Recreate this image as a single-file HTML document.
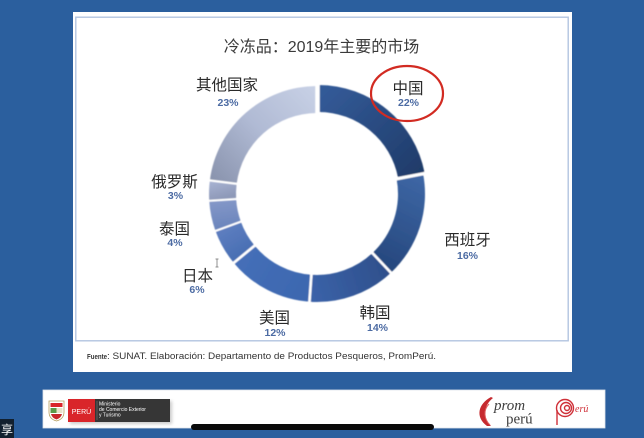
<!DOCTYPE html>
<html>
<head>
<meta charset="utf-8">
<style>
  html,body{margin:0;padding:0;background:#2b5f9e;}
  body{width:644px;height:438px;overflow:hidden;}
  svg{display:block;}
  .cjk{font-family:"Liberation Sans","Noto Sans CJK SC",sans-serif;}
  .lbl{font-family:"Liberation Sans","Noto Sans CJK SC",sans-serif;font-size:15.5px;fill:#2a2a2a;text-anchor:middle;}
  .pct{font-family:"Liberation Sans",sans-serif;font-size:10.5px;font-weight:bold;fill:#4c6ba3;text-anchor:middle;}
</style>
</head>
<body>
<svg width="644" height="438" viewBox="0 0 644 438" xmlns="http://www.w3.org/2000/svg">
  <defs>
    <linearGradient id="gChina" gradientUnits="userSpaceOnUse" x1="330" y1="88" x2="415" y2="178">
      <stop offset="0" stop-color="#335a97"/><stop offset="1" stop-color="#1f3b69"/>
    </linearGradient>
    <linearGradient id="gSpain" gradientUnits="userSpaceOnUse" x1="422" y1="180" x2="378" y2="268">
      <stop offset="0" stop-color="#3d66a4"/><stop offset="1" stop-color="#25467c"/>
    </linearGradient>
    <linearGradient id="gKorea" gradientUnits="userSpaceOnUse" x1="388" y1="268" x2="312" y2="292">
      <stop offset="0" stop-color="#2e4f8b"/><stop offset="1" stop-color="#3b62a8"/>
    </linearGradient>
    <linearGradient id="gUSA" gradientUnits="userSpaceOnUse" x1="300" y1="295" x2="238" y2="258">
      <stop offset="0" stop-color="#3d68b0"/><stop offset="1" stop-color="#456fb8"/>
    </linearGradient>
    <linearGradient id="gJapan" gradientUnits="userSpaceOnUse" x1="232" y1="258" x2="216" y2="232">
      <stop offset="0" stop-color="#4a70b4"/><stop offset="1" stop-color="#5e7ec0"/>
    </linearGradient>
    <linearGradient id="gThai" gradientUnits="userSpaceOnUse" x1="214" y1="228" x2="210" y2="201">
      <stop offset="0" stop-color="#6c86bd"/><stop offset="1" stop-color="#8598c8"/>
    </linearGradient>
    <linearGradient id="gRussia" gradientUnits="userSpaceOnUse" x1="210" y1="182" x2="215" y2="200">
      <stop offset="0" stop-color="#a7b2d2"/><stop offset="1" stop-color="#8e99b8"/>
    </linearGradient>
    <linearGradient id="gOthers" gradientUnits="userSpaceOnUse" x1="312" y1="88" x2="214" y2="180">
      <stop offset="0" stop-color="#c7d0e5"/><stop offset="0.5" stop-color="#b0bad4"/><stop offset="1" stop-color="#8a94ae"/>
    </linearGradient>
    <filter id="soft" x="-10%" y="-10%" width="120%" height="120%">
      <feGaussianBlur stdDeviation="0.6"/>
    </filter>
    <filter id="shad" x="-10%" y="-10%" width="120%" height="120%">
      <feGaussianBlur stdDeviation="1.5"/>
    </filter>
  </defs>

  <!-- background -->
  <rect x="0" y="0" width="644" height="438" fill="#2b5f9e"/>

  <!-- slide -->
  <rect x="73" y="12" width="499" height="360" fill="#ffffff"/>
  <rect x="75.8" y="17.2" width="492.4" height="323.6" fill="none" stroke="#b3c5e0" stroke-width="1.4"/>

  <!-- title -->
  <text x="321.5" y="52" class="cjk" font-size="16" fill="#3a3a3a" text-anchor="middle">冷冻品：2019年主要的市场</text>

  <!-- donut segments -->
  <g filter="url(#soft)">
    <path d="M318.5,85 A108,108 0 0 1 424.59,172.76 L398.07,177.82 A81,81 0 0 0 318.5,112 Z" fill="url(#gChina)"/>
    <path d="M423.09,173.76 A108,108 0 0 1 390.93,272.73 L372.45,253.05 A81,81 0 0 0 396.57,178.82 Z" fill="url(#gSpain)"/>
    <path d="M390.93,272.73 A108,108 0 0 1 309.47,301.74 L311.35,274.80 A81,81 0 0 0 372.45,253.05 Z" fill="url(#gKorea)"/>
    <path d="M309.47,301.74 A108,108 0 0 1 233.78,262.84 L254.59,245.63 A81,81 0 0 0 311.35,274.80 Z" fill="url(#gUSA)"/>
    <path d="M233.78,262.84 A108,108 0 0 1 215.51,230.94 L240.88,221.70 A81,81 0 0 0 254.59,245.63 Z" fill="url(#gJapan)"/>
    <path d="M215.51,230.94 A108,108 0 0 1 209.21,200.78 L236.16,199.09 A81,81 0 0 0 240.88,221.70 Z" fill="url(#gThai)"/>
    <path d="M209.21,200.78 A108,108 0 0 1 209.85,180.46 L236.64,183.85 A81,81 0 0 0 236.16,199.09 Z" fill="url(#gRussia)"/>
    <path d="M209.85,180.46 A108,108 0 0 1 317,86 L317,113 A81,81 0 0 0 236.64,183.85 Z" fill="url(#gOthers)"/>
    <!-- separators -->
    <g stroke="#ffffff" stroke-width="2.6" stroke-linecap="butt">
      <line x1="317.5" y1="80" x2="317.5" y2="119" stroke-width="4.5"/>
      <line x1="391.65" y1="179.76" x2="428.0" y2="172.83" stroke-width="3.2"/>
      <line x1="369.03" y1="249.40" x2="394.35" y2="276.37"/>
      <line x1="311.70" y1="269.81" x2="309.12" y2="306.72"/>
      <line x1="258.44" y1="242.44" x2="229.93" y2="266.03"/>
      <line x1="245.58" y1="219.99" x2="210.81" y2="232.65" stroke-width="2"/>
      <line x1="241.15" y1="198.77" x2="204.22" y2="201.10" stroke-width="2"/>
      <line x1="241.60" y1="184.47" x2="204.89" y2="179.84" stroke-width="2.2"/>
    </g>
  </g>

  <!-- labels -->
  <text x="227" y="90" class="lbl">其他国家</text>
  <text x="228" y="106" class="pct">23%</text>

  <text x="408" y="93.5" class="lbl">中国</text>
  <text x="408.5" y="106" class="pct">22%</text>

  <text x="467.5" y="245" class="lbl">西班牙</text>
  <text x="467.5" y="259" class="pct">16%</text>

  <text x="375" y="318" class="lbl">韩国</text>
  <text x="377.5" y="331" class="pct">14%</text>

  <text x="274.5" y="323" class="lbl">美国</text>
  <text x="275" y="336" class="pct">12%</text>

  <text x="197.5" y="281" class="lbl">日本</text>
  <text x="197" y="293" class="pct">6%</text>

  <text x="174.5" y="234" class="lbl">泰国</text>
  <text x="175" y="246" class="pct">4%</text>

  <text x="174.5" y="187" class="lbl">俄罗斯</text>
  <text x="175.5" y="199" class="pct">3%</text>

  <!-- red highlight ellipse -->
  <ellipse cx="407" cy="93.5" rx="36" ry="27.5" fill="none" stroke="#d22b22" stroke-width="2.2"/>

  <!-- text cursor -->
  <g stroke="#777" stroke-width="0.8" fill="none">
    <line x1="217" y1="259" x2="217" y2="267"/>
    <line x1="215.5" y1="259" x2="218.5" y2="259"/>
    <line x1="215.5" y1="267" x2="218.5" y2="267"/>
  </g>

  <!-- source -->
  <text x="87" y="359" font-family="Liberation Sans, sans-serif" font-size="7" font-weight="bold" fill="#333" textLength="20" lengthAdjust="spacingAndGlyphs">Fuente</text>
  <text x="107" y="359" font-family="Liberation Sans, sans-serif" font-size="9" fill="#333" textLength="329" lengthAdjust="spacingAndGlyphs">: SUNAT. Elaboración: Departamento de Productos Pesqueros, PromPerú.</text>

  <!-- bottom logo bar -->
  <rect x="43" y="390" width="562" height="38" fill="#ffffff" stroke="#dfe4ec" stroke-width="0.8"/>

  <!-- Peru gov logo -->
  <rect x="70" y="401" width="102" height="23" fill="#999" opacity="0.5" filter="url(#shad)"/>
  <path d="M49,401 L64,401 L64,412 Q64,419 56.5,421 Q49,419 49,412 Z" fill="#ffffff" stroke="#b8a060" stroke-width="0.8"/>
  <rect x="50.5" y="403" width="12" height="4" fill="#d9252a"/>
  <rect x="50.5" y="408" width="6" height="5" fill="#5b9a48"/>
  <rect x="56.5" y="408" width="6" height="5" fill="#e8e2c8"/>
  <path d="M51,414 L62,414 Q61,418 56.5,419.5 Q52,418 51,414 Z" fill="#c8262a"/>
  <rect x="68" y="399" width="27" height="23" fill="#d9252a"/>
  <text x="81.5" y="414" font-family="Liberation Sans, sans-serif" font-size="7" fill="#ffffff" text-anchor="middle">PERÚ</text>
  <rect x="95" y="399" width="75" height="23" fill="#363636"/>
  <line x1="97" y1="401" x2="97" y2="420" stroke="#888" stroke-width="0.5"/>
  <text x="99" y="405.5" font-family="Liberation Sans, sans-serif" font-size="5" fill="#ffffff">Ministerio</text>
  <text x="99" y="411" font-family="Liberation Sans, sans-serif" font-size="5" fill="#ffffff">de Comercio Exterior</text>
  <text x="99" y="416.5" font-family="Liberation Sans, sans-serif" font-size="5" fill="#ffffff">y Turismo</text>

  <!-- PromPeru logo -->
  <path d="M491,397 C478,404 475,417 487,426 L491,426 C482,417 484,405 493,398 Z" fill="#c62a2f"/>
  <path d="M489,404 C483,410 484,419 490,425" fill="none" stroke="#e06060" stroke-width="1"/>
  <text x="494" y="410" font-family="Liberation Serif, serif" font-style="italic" font-size="15" fill="#3d3d3d">prom</text>
  <text x="506" y="423.5" font-family="Liberation Serif, serif" font-size="15" fill="#3d3d3d">perú</text>

  <!-- Marca Peru logo -->
  <g fill="none" stroke="#cf3038" stroke-width="1.4">
    <circle cx="565" cy="408" r="8.5"/>
    <circle cx="566" cy="408" r="5.5"/>
    <circle cx="567" cy="408" r="2.5"/>
    <path d="M557,410 L557,425"/>
  </g>
  <text x="575" y="412" font-family="Liberation Serif, serif" font-style="italic" font-size="10" fill="#cf3038">erú</text>

  <!-- home indicator -->
  <rect x="191" y="424" width="243" height="6" rx="3" fill="#0a0a0a"/>

  <!-- corner char -->
  <rect x="0" y="419" width="14" height="19" fill="#12202f"/>
  <text x="7" y="434" class="cjk" font-size="12" fill="#ffffff" text-anchor="middle">享</text>
</svg>
</body>
</html>
